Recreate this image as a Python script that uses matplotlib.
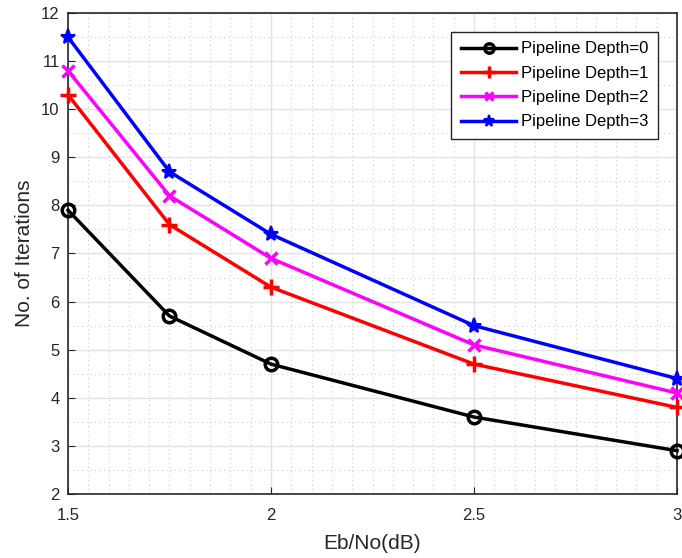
import numpy as np
import matplotlib
matplotlib.use('Agg')
import matplotlib.pyplot as plt
from matplotlib.ticker import MultipleLocator

plt.rcParams['font.family'] = ['Liberation Sans', 'DejaVu Sans']

ebno = [1.5, 1.75, 2, 2.5, 3]
depth0 = [7.9, 5.7, 4.7, 3.6, 2.9]
depth1 = [10.3, 7.6, 6.3, 4.7, 3.8]
depth2 = [10.8, 8.2, 6.9, 5.1, 4.1]
depth3 = [11.5, 8.7, 7.4, 5.5, 4.4]
labels = ['Pipeline Depth=0', 'Pipeline Depth=1', 'Pipeline Depth=2', 'Pipeline Depth=3']

fig = plt.figure(figsize=(6.82, 5.58), dpi=100)
ax = fig.add_axes([0.0997, 0.1147, 0.8930, 0.862])

ax.plot(ebno, depth0, color='k', lw=2.5, marker='o', ms=9, mfc='none', mew=2.5, label=labels[0], clip_on=False, zorder=5)
ax.plot(ebno, depth1, color='r', lw=2.5, marker='+', ms=11, mew=2.5, label=labels[1], clip_on=False, zorder=5)
ax.plot(ebno, depth2, color='#ff00ff', lw=2.5, marker='x', ms=8, mew=2.5, label=labels[2], clip_on=False, zorder=5)
ax.plot(ebno, depth3, color='b', lw=2.5, marker='*', ms=11, mew=1.5, label=labels[3], clip_on=False, zorder=5)

ax.set_xlim(1.5, 3)
ax.set_ylim(2, 12)
ax.xaxis.set_major_locator(MultipleLocator(0.5))
ax.xaxis.set_minor_locator(MultipleLocator(0.05))
ax.yaxis.set_major_locator(MultipleLocator(1))
ax.yaxis.set_minor_locator(MultipleLocator(0.5))
ax.xaxis.set_major_formatter(plt.FuncFormatter(lambda v, p: f'{v:g}'))

ax.grid(which='major', color='#e3e3e3', lw=1)
ax.grid(which='minor', color='#cccccc', lw=0.8, ls=(0, (1, 3)))
ax.set_axisbelow(True)
ax.tick_params(which='major', direction='in', length=5, labelsize=12, colors='#262626', top=False, right=False)
ax.tick_params(which='minor', length=0)
ax.tick_params(axis='x', pad=10)
ax.tick_params(axis='y', pad=6)
for s in ax.spines.values():
    s.set_color('#262626')
    s.set_linewidth(1.2)

ax.set_xlabel('Eb/No(dB)', fontsize=15, color='#262626', labelpad=8)
ax.set_ylabel('No. of Iterations', fontsize=15, color='#262626', labelpad=5)

leg = ax.legend(loc='upper right', bbox_to_anchor=(0.969, 0.96), fontsize=12, fancybox=False,
                framealpha=1, edgecolor='#262626', handlelength=3.35, handletextpad=0.3,
                borderpad=0.55, labelspacing=0.56, borderaxespad=0, markerscale=0.75)
leg.get_frame().set_linewidth(1)

fig.savefig('out.png', dpi=100)
